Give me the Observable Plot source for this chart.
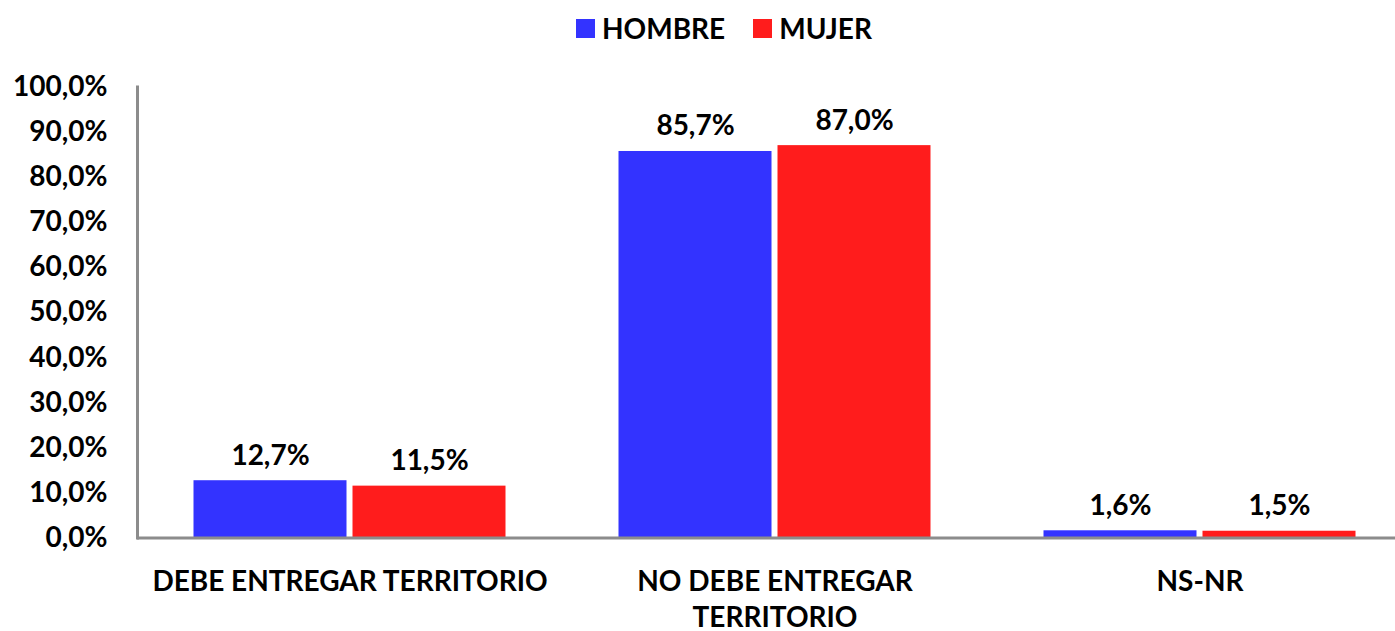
<!DOCTYPE html>
<html>
<head>
<meta charset="utf-8">
<script src="https://cdn.jsdelivr.net/npm/d3@7"></script>
<script src="https://cdn.jsdelivr.net/npm/@observablehq/plot@0.6"></script>
<style>
  html, body { margin: 0; padding: 0; background: #fff; overflow: hidden; }
  body { width: 1395px; height: 631px; font-family: Lato, "Open Sans", sans-serif; }
  #legend { height: 56px; display: flex; align-items: center; padding-left: 576px; box-sizing: border-box;
            font-family: Lato, sans-serif; font-weight: 700; font-size: 28px; color: #000; }
  .item { display: flex; align-items: center; margin-right: 28px; }
  .sw { width: 19px; height: 19px; margin-right: 7px; }
  #chart svg { overflow: visible; display: block; }
</style>
</head>
<body>
<div id="legend"></div>
<div id="chart"></div>
<script>
const categories = ["DEBE ENTREGAR TERRITORIO", "NO DEBE ENTREGAR TERRITORIO", "NS-NR"];
const categoryLabels = ["DEBE ENTREGAR TERRITORIO", "NO DEBE ENTREGAR\nTERRITORIO", "NS-NR"];
const series = ["HOMBRE", "MUJER"];
const hombre = [12.7, 85.7, 1.6];
const mujer = [11.5, 87.0, 1.5];
const colors = ["#3333ff", "#ff1c1c"];
const yTicks = [0, 10, 20, 30, 40, 50, 60, 70, 80, 90, 100];

const data = [];
categories.forEach((c, i) => {
  data.push({cat: c, sex: series[0], value: hombre[i]});
  data.push({cat: c, sex: series[1], value: mujer[i]});
});
const fmt = v => v.toFixed(1).replace(".", ",") + "%";

// legend
const legend = document.getElementById("legend");
series.forEach((s, i) => {
  const it = document.createElement("div");
  it.className = "item";
  it.innerHTML = `<div class="sw" style="background:${colors[i]}"></div><span>${s}</span>`;
  legend.appendChild(it);
});

const FONT = 28;
const chart = Plot.plot({
  width: 1395,
  height: 575,
  marginTop: 30.5,
  marginBottom: 93.5,
  marginLeft: 136.5,
  marginRight: 0,
  style: {fontFamily: "Lato, sans-serif", fontWeight: 700, color: "#000", overflow: "visible"},
  fx: {domain: categories, range: [136.5, 1412.5], paddingInner: 0, paddingOuter: 0},
  x: {domain: series, paddingInner: 0.0375, paddingOuter: 0.35, axis: null},
  y: {domain: [0, 100], axis: null},
  color: {domain: series, range: colors},
  marks: [
    Plot.barY(data, {fx: "cat", x: "sex", y: "value", fill: "sex"}),
    Plot.ruleY([0], {stroke: "#8c8c8c", strokeWidth: 3}),
    Plot.frame({anchor: "left", facetAnchor: "left", stroke: "#8c8c8c", strokeWidth: 3}),
    Plot.text(data, {fx: "cat", x: "sex", y: "value", text: d => fmt(d.value),
      lineAnchor: "bottom", dy: -16, fontSize: FONT, fontWeight: 700, fill: "#000"}),
    Plot.axisY(yTicks, {facetAnchor: "left", anchor: "left", tickSize: 0, tickPadding: 30,
      tickFormat: fmt, fontSize: FONT, fontWeight: 700, fill: "#000", label: null}),
    Plot.axisFx({anchor: "bottom", tickSize: 0, tickPadding: 27, lineHeight: 1.3,
      tickFormat: c => categoryLabels[categories.indexOf(c)], fontSize: FONT, fontWeight: 700,
      fill: "#000", lineWidth: 100, label: null})
  ]
});
document.getElementById("chart").appendChild(chart);
</script>
</body>
</html>
